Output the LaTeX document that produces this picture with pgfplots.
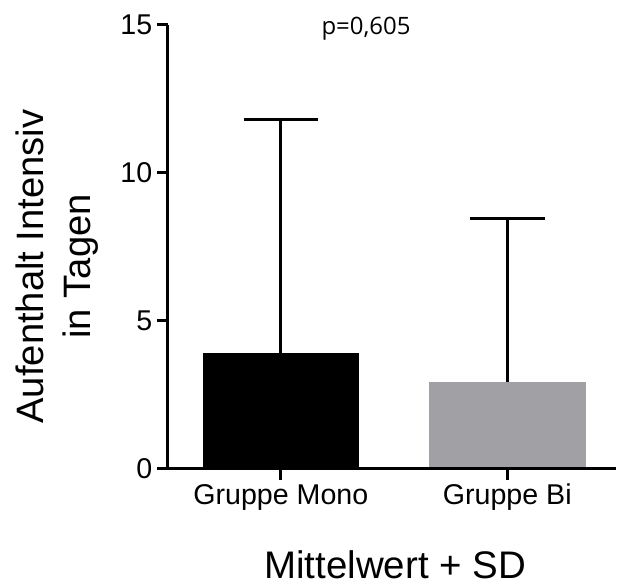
\documentclass[border=0pt]{standalone}
\usepackage{pgfplots}
\pgfplotsset{compat=1.18}
\usepackage{fontspec}
\setmainfont{Liberation Sans}
\newfontfamily\opensans{Open Sans}
\definecolor{bargray}{RGB}{161,161,165}

\begin{document}
\begin{tikzpicture}
\begin{axis}[
    scale only axis,
    width=336.75pt, height=333.75pt,
    xmin=-0.5, xmax=1.478,
    ymin=0, ymax=15,
    axis x line=bottom, axis y line=left,
    axis line style={-, line width=2.25pt},
    every tick/.style={black, line width=2.25pt},
    tick align=outside,
    major tick length=8pt,
    xtick={0,1},
    xticklabels={Gruppe Mono, Gruppe Bi},
    ytick={0,5,10,15},
    /pgf/number format/assume math mode=true,
    tick label style={font=\fontsize{21.5}{25}\selectfont},
    ylabel={Aufenthalt Intensiv\\in Tagen},
    ylabel style={font=\fontsize{28.7}{35}\selectfont, align=center,
        at={(axis description cs:-0.247,0.456)}, anchor=center},
    xlabel={Mittelwert + SD},
    xlabel style={font=\fontsize{28.9}{34}\selectfont,
        at={(axis description cs:0.508,-0.246)}, anchor=base},
    clip=false,
    axis on top,
]

% --- Balken mit SD (nur nach oben) ---
\addplot[ybar, bar width=117.75pt, bar shift=0pt, fill=black, draw=none,
    error bars/.cd, y dir=plus, y explicit,
    error bar style={line width=2.25pt, black},
    error mark options={rotate=90, mark size=28pt, line width=2.25pt, black}]
    coordinates {(0, 3.93) +- (0, 7.87)};

\addplot[ybar, bar width=117.75pt, bar shift=0pt, fill=bargray, draw=none,
    error bars/.cd, y dir=plus, y explicit,
    error bar style={line width=2.25pt, black},
    error mark options={rotate=90, mark size=28pt, line width=2.25pt, black}]
    coordinates {(1, 2.94) +- (0, 5.51)};

\node[anchor=base, font=\opensans\fontsize{18}{22}\selectfont]
    at (axis description cs:0.443,0.978) {p=0,605};

% Bildrahmen
\path (axis description cs:-0.3742,-0.2607) rectangle (axis description cs:1,1.0562);
\end{axis}
\end{tikzpicture}
\end{document}
